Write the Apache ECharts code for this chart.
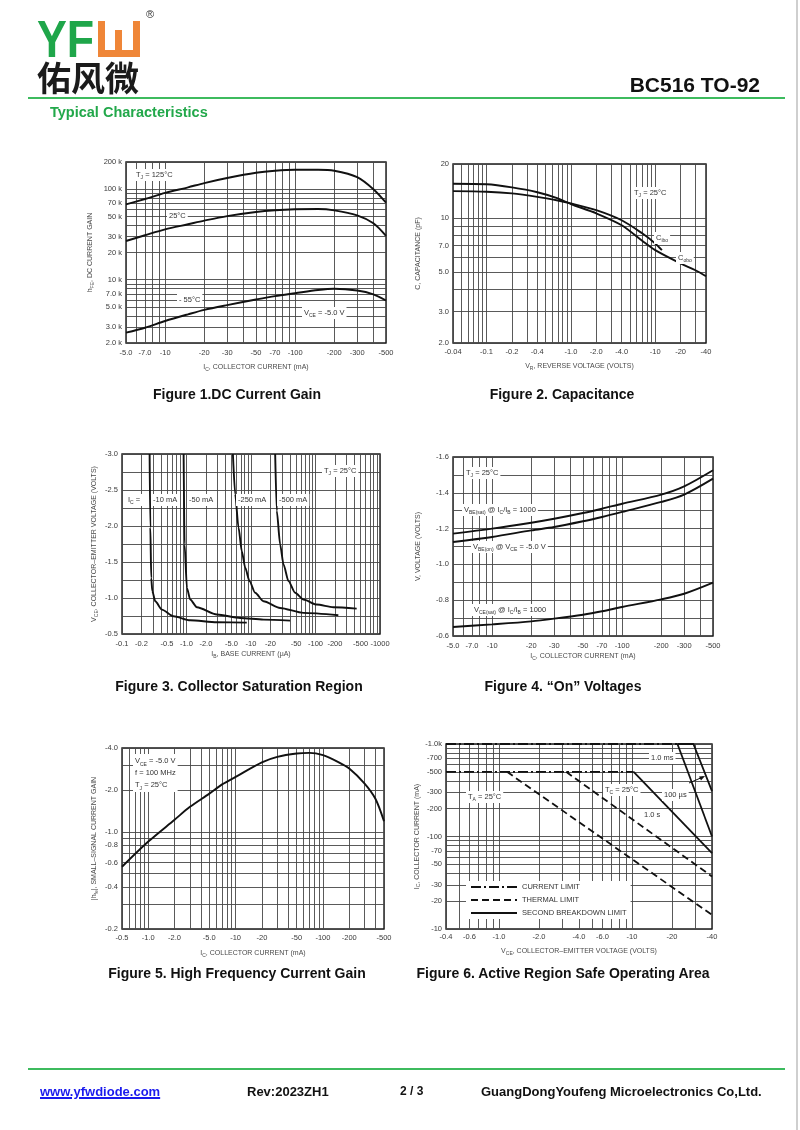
<!DOCTYPE html>
<html>
<head>
<meta charset="utf-8">
<script src="https://cdn.jsdelivr.net/npm/echarts@6/dist/echarts.min.js"></script>
<style>
html,body{margin:0;padding:0;background:#fff;}
#page{position:relative;width:800px;height:1130px;overflow:hidden;font-family:'Liberation Sans',Arial,sans-serif;background:#fff;}
#chart{position:absolute;left:0;top:0;width:800px;height:1130px;}
.abs{position:absolute;white-space:nowrap;}
.cap{position:absolute;white-space:nowrap;font-weight:700;font-size:14px;line-height:16px;color:#111;transform:translateX(-50%);}
.foot{position:absolute;white-space:nowrap;font-weight:700;font-size:13px;line-height:13px;color:#111;top:1085px;}
</style>
</head>
<body>
<div id="page">
  <div id="chart"></div>
  <!-- header -->
  <div class="abs" style="left:37px;top:13px;font-size:52px;line-height:52px;font-weight:700;color:#1fa64a;transform:scaleX(0.86);transform-origin:left top;">YF</div>
  <div class="abs" style="left:98px;top:21px;width:28px;height:29px;border:7px solid #ef8638;border-top:none;"></div>
  <div class="abs" style="left:115px;top:30px;width:7px;height:22px;background:#ef8638;"></div>
  <div class="abs" style="left:146px;top:9px;font-size:11px;line-height:11px;color:#333;">®</div>
  <div class="abs" style="left:37px;top:60px;font-size:34px;line-height:34px;font-weight:700;color:#1b1b1b;font-family:'Noto Sans CJK SC',sans-serif;">佑风微</div>
  <div class="abs" style="right:40px;top:74px;font-size:21px;line-height:21px;font-weight:700;color:#111;">BC516 TO-92</div>
  <div class="abs" style="left:28px;top:97px;width:757px;height:2px;background:#3dbb5e;"></div>
  <div class="abs" style="left:50px;top:105px;font-size:14.5px;line-height:15px;font-weight:700;color:#22a84a;">Typical Characteristics</div>
  <!-- captions -->
  <div class="cap" style="left:237px;top:386px;">Figure 1.DC Current Gain</div>
  <div class="cap" style="left:562px;top:386px;">Figure 2. Capacitance</div>
  <div class="cap" style="left:239px;top:678px;">Figure 3. Collector Saturation Region</div>
  <div class="cap" style="left:563px;top:678px;">Figure 4. “On” Voltages</div>
  <div class="cap" style="left:237px;top:965px;">Figure 5. High Frequency Current Gain</div>
  <div class="cap" style="left:563px;top:965px;">Figure 6. Active Region Safe Operating Area</div>
  <!-- footer -->
  <div class="abs" style="left:28px;top:1068px;width:757px;height:2px;background:#3dbb5e;"></div>
  <div class="foot" style="left:40px;color:#1a1aee;text-decoration:underline;text-decoration-thickness:2px;">www.yfwdiode.com</div>
  <div class="foot" style="left:247px;">Rev:2023ZH1</div>
  <div class="foot" style="left:400px;font-size:12px;">2 / 3</div>
  <div class="foot" style="left:481px;">GuangDongYoufeng Microelectronics Co,Ltd.</div>
  <div class="abs" style="left:796px;top:0;width:2px;height:1130px;background:#cfcfcf;"></div>
</div>
<script>
// ---------------- Figure 1: DC current gain ----------------
const fig1Current = [5, 7, 10, 15, 20, 30, 50, 70, 100, 150, 200, 300, 400, 500];
const fig1Gain125C = [68000, 78000, 91000, 105000, 117000, 133000, 152000, 160000, 164000, 164000, 160000, 136000, 100000, 71000];
const fig1Gain25C = [26800, 31000, 36000, 41000, 45000, 50500, 56000, 58500, 60000, 60500, 58500, 51500, 42000, 30500];
const fig1GainM55C = [2600, 2950, 3500, 4150, 4650, 5250, 6050, 6600, 7100, 7700, 7950, 7600, 6900, 5900];
const fig1XTicks = [5, 7, 10, 20, 30, 50, 70, 100, 200, 300, 500];
const fig1XLabels = ['-5.0', '-7.0', '-10', '-20', '-30', '-50', '-70', '-100', '-200', '-300', '-500'];
const fig1YTicks = [2000, 3000, 5000, 7000, 10000, 20000, 30000, 50000, 70000, 100000, 200000];
const fig1YLabels = ['2.0 k', '3.0 k', '5.0 k', '7.0 k', '10 k', '20 k', '30 k', '50 k', '70 k', '100 k', '200 k'];

// ---------------- Figure 2: capacitance ----------------
const fig2VoltageCibo = [0.04, 0.1, 0.2, 0.4, 0.7, 1, 2, 4, 7, 10, 12];
const fig2Cibo = [14.1, 14.0, 13.7, 13.1, 12.5, 12.05, 11.05, 9.7, 8.2, 7.2, 6.6];
const fig2VoltageCobo = [0.04, 0.1, 0.2, 0.4, 0.7, 1, 2, 4, 7, 10, 20, 30, 40];
const fig2Cobo = [15.5, 15.4, 14.8, 13.9, 12.85, 11.95, 10.6, 9.1, 7.45, 6.6, 5.56, 5.1, 4.72];
const fig2XTicks = [0.04, 0.1, 0.2, 0.4, 1, 2, 4, 10, 20, 40];
const fig2XLabels = ['-0.04', '-0.1', '-0.2', '-0.4', '-1.0', '-2.0', '-4.0', '-10', '-20', '-40'];
const fig2YTicks = [2, 3, 5, 7, 10, 20];
const fig2YLabels = ['2.0', '3.0', '5.0', '7.0', '10', '20'];

// ---------------- Figure 3: collector saturation region ----------------
const fig3BaseCurrent10 = [0.268, 0.275, 0.284, 0.295, 0.328, 0.416, 0.63, 1.14, 2.96, 8.6];
const fig3Vce10 = [3.0, 1.98, 1.28, 1.095, 0.955, 0.839, 0.746, 0.69, 0.663, 0.658];
const fig3BaseCurrent50 = [0.902, 0.934, 1.015, 1.14, 1.45, 2.96, 6.8, 15.6, 40.4];
const fig3Vce50 = [3.0, 1.745, 1.141, 0.979, 0.872, 0.77, 0.723, 0.70, 0.686];
const fig3BaseCurrent250 = [5.24, 5.69, 6.4, 7.2, 8.13, 9.48, 11.6, 15.6, 28.3, 65, 226];
const fig3Vce250 = [3.0, 2.44, 1.98, 1.65, 1.42, 1.234, 1.072, 0.955, 0.862, 0.793, 0.76];
const fig3BaseCurrent500 = [23.7, 25.1, 28.3, 31.9, 38.1, 48.3, 65, 104.5, 189, 435];
const fig3Vce500 = [3.0, 2.21, 1.745, 1.467, 1.234, 1.072, 0.979, 0.909, 0.872, 0.853];
const fig3XTicks = [0.1, 0.2, 0.5, 1, 2, 5, 10, 20, 50, 100, 200, 500, 1000];
const fig3XLabels = ['-0.1', '-0.2', '-0.5', '-1.0', '-2.0', '-5.0', '-10', '-20', '-50', '-100', '-200', '-500', '-1000'];
const fig3YTicks = [0.5, 1.0, 1.5, 2.0, 2.5, 3.0];
const fig3YLabels = ['-0.5', '-1.0', '-1.5', '-2.0', '-2.5', '-3.0'];

// ---------------- Figure 4: "On" voltages ----------------
const fig4Current = [5, 10, 20, 30, 50, 70, 100, 200, 300, 500];
const fig4VbeSat = [1.172, 1.200, 1.233, 1.255, 1.287, 1.311, 1.339, 1.390, 1.436, 1.526];
const fig4VbeOn = [1.125, 1.153, 1.190, 1.209, 1.241, 1.265, 1.293, 1.349, 1.390, 1.479];
const fig4VceSat = [0.650, 0.665, 0.682, 0.697, 0.719, 0.738, 0.762, 0.805, 0.836, 0.898];
const fig4XTicks = [5, 7, 10, 20, 30, 50, 70, 100, 200, 300, 500];
const fig4XLabels = ['-5.0', '-7.0', '-10', '-20', '-30', '-50', '-70', '-100', '-200', '-300', '-500'];
const fig4YTicks = [0.6, 0.8, 1.0, 1.2, 1.4, 1.6];
const fig4YLabels = ['-0.6', '-0.8', '-1.0', '-1.2', '-1.4', '-1.6'];

// ---------------- Figure 5: high frequency current gain ----------------
const fig5Current = [0.5, 1, 2, 3, 5, 7, 10, 20, 30, 50, 70, 100, 150, 200, 300, 400, 500];
const fig5Gain = [0.56, 0.85, 1.22, 1.51, 1.88, 2.19, 2.48, 3.15, 3.45, 3.65, 3.69, 3.55, 3.17, 2.85, 2.22, 1.72, 1.19];
const fig5XTicks = [0.5, 1, 2, 5, 10, 20, 50, 100, 200, 500];
const fig5XLabels = ['-0.5', '-1.0', '-2.0', '-5.0', '-10', '-20', '-50', '-100', '-200', '-500'];
const fig5YTicks = [0.2, 0.4, 0.6, 0.8, 1.0, 2.0, 4.0];
const fig5YLabels = ['-0.2', '-0.4', '-0.6', '-0.8', '-1.0', '-2.0', '-4.0'];

// ---------------- Figure 6: safe operating area ----------------
const fig6VcePeakLimit = [0.4, 22];
const fig6IcPeakLimit = [1000, 1000];
const fig6VceDcLimit = [0.4, 10.3];
const fig6IcDcLimit = [500, 500];
const fig6VceThermalTA = [1.15, 40];
const fig6IcThermalTA = [500, 14.2];
const fig6VceThermalTC = [3.2, 40];
const fig6IcThermalTC = [500, 37];
const fig6Vce1s = [10.3, 40];
const fig6Ic1s = [500, 66];
const fig6Vce1ms = [22, 40];
const fig6Ic1ms = [1000, 100];
const fig6Vce100us = [22, 29, 40];
const fig6Ic100us = [1000, 1000, 310];
const fig6XTicks = [0.4, 0.6, 1, 2, 4, 6, 10, 20, 40];
const fig6XLabels = ['-0.4', '-0.6', '-1.0', '-2.0', '-4.0', '-6.0', '-10', '-20', '-40'];
const fig6YTicks = [10, 20, 30, 50, 70, 100, 200, 300, 500, 700, 1000];
const fig6YLabels = ['-10', '-20', '-30', '-50', '-70', '-100', '-200', '-300', '-500', '-700', '-1.0k'];
const fig6LegendNames = ['CURRENT LIMIT', 'THERMAL LIMIT', 'SECOND BREAKDOWN LIMIT'];

// ---------------- helpers ----------------
const NARROW = "'Liberation Sans Narrow','Liberation Sans',Arial,sans-serif";
const GRID_LINE = {color: '#474747', width: 0.9};
const CURVE = {color: '#111', width: 1.9};
const SUB = {s: {fontSize: 5, verticalAlign: 'bottom'}};

function decadeLines(min, max) {
  const out = [];
  for (let e = Math.floor(Math.log10(min)) - 1; e <= Math.ceil(Math.log10(max)); e++) {
    for (let m = 1; m < 10; m++) {
      const v = +(m * Math.pow(10, e)).toPrecision(6);
      if (v >= min * 0.9999 && v <= max * 1.0001) out.push(v);
    }
  }
  return out;
}
function lookupFormatter(vals, texts) {
  return function (v) {
    for (let i = 0; i < vals.length; i++) {
      if (Math.abs(vals[i] - v) <= Math.abs(vals[i]) * 1e-6) return texts[i];
    }
    return '';
  };
}
function zip(a, b) { return a.map((x, i) => [x, b[i]]); }
function nameStyle() {
  return {fontSize: 7, color: '#4a4a4a', fontFamily: NARROW, lineHeight: 9, rich: SUB};
}
function logAxis(g, min, max, tickVals, tickTexts, name, nameGap, margin) {
  return {
    type: 'log', logBase: 10, gridIndex: g, min: min, max: max,
    axisLine: {show: false},
    axisTick: {show: false, customValues: decadeLines(min, max)},
    splitLine: {show: true, lineStyle: GRID_LINE},
    axisLabel: {customValues: tickVals, formatter: lookupFormatter(tickVals, tickTexts),
      fontSize: 7.5, color: '#3a3a3a', fontFamily: NARROW, margin: margin},
    name: name, nameLocation: 'middle', nameGap: nameGap, nameTextStyle: nameStyle()
  };
}
function linAxis(g, min, max, interval, tickVals, tickTexts, name, nameGap, margin) {
  return {
    type: 'value', gridIndex: g, min: min, max: max, interval: interval,
    axisLine: {show: false}, axisTick: {show: false},
    splitLine: {show: true, lineStyle: GRID_LINE},
    axisLabel: {formatter: lookupFormatter(tickVals, tickTexts),
      fontSize: 7.5, color: '#3a3a3a', fontFamily: NARROW, margin: margin},
    name: name, nameLocation: 'middle', nameGap: nameGap, nameTextStyle: nameStyle()
  };
}
function curve(g, xs, ys, extra) {
  return Object.assign({
    type: 'line', xAxisIndex: g, yAxisIndex: g, data: zip(xs, ys),
    symbol: 'none', smooth: 0.3, lineStyle: CURVE, itemStyle: {color: '#111'}, silent: true, z: 3
  }, extra || {});
}
function soa(name, xs, ys, type) {
  return curve(5, xs, ys, {name: name, smooth: false,
    lineStyle: {color: '#111', width: 1.8, type: type}});
}
function note(x, y, text, extra) {
  return {
    type: 'text', x: x, y: y, z: 100,
    style: Object.assign({
      text: text, fontSize: 7.5, fontFamily: NARROW, fill: '#333',
      backgroundColor: '#fff', padding: [1, 2, 1, 2], lineHeight: 10,
      rich: SUB, verticalAlign: 'middle', align: 'left'
    }, extra || {})
  };
}

const DASH_DOT = [10, 3, 2, 3];
const DASHED = [7, 4];

const gridBox = {show: true, borderColor: '#1a1a1a', borderWidth: 1.4, backgroundColor: 'transparent',
  containLabel: false, outerBoundsMode: 'none'};

const option = {
  animation: false,
  backgroundColor: 'transparent',
  grid: [
    Object.assign({left: 126, top: 162, width: 260, height: 181}, gridBox),
    Object.assign({left: 453, top: 164, width: 253, height: 179}, gridBox),
    Object.assign({left: 122, top: 454, width: 258, height: 180}, gridBox),
    Object.assign({left: 453, top: 457, width: 260, height: 179}, gridBox),
    Object.assign({left: 122, top: 748, width: 262, height: 181}, gridBox),
    Object.assign({left: 446, top: 744, width: 266, height: 185}, gridBox)
  ],
  xAxis: [
    logAxis(0, 5, 500, fig1XTicks, fig1XLabels, 'I{s|C}, COLLECTOR CURRENT (mA)', 20, 6),
    logAxis(1, 0.04, 40, fig2XTicks, fig2XLabels, 'V{s|R}, REVERSE VOLTAGE (VOLTS)', 19, 5),
    logAxis(2, 0.1, 1000, fig3XTicks, fig3XLabels, 'I{s|B}, BASE CURRENT (µA)', 16, 6),
    logAxis(3, 5, 500, fig4XTicks, fig4XLabels, 'I{s|C}, COLLECTOR CURRENT (mA)', 16, 6),
    logAxis(4, 0.5, 500, fig5XTicks, fig5XLabels, 'I{s|C}, COLLECTOR CURRENT (mA)', 20, 5),
    logAxis(5, 0.4, 40, fig6XTicks, fig6XLabels, 'V{s|CE}, COLLECTOR–EMITTER VOLTAGE (VOLTS)', 18, 4)
  ],
  yAxis: [
    logAxis(0, 2000, 200000, fig1YTicks, fig1YLabels, 'h{s|FE}, DC CURRENT GAIN', 31, 4),
    logAxis(1, 2, 20, fig2YTicks, fig2YLabels, 'C, CAPACITANCE (pF)', 30, 4),
    linAxis(2, 0.5, 3.0, 0.25, fig3YTicks, fig3YLabels, 'V{s|CE}, COLLECTOR–EMITTER VOLTAGE (VOLTS)', 23, 4),
    linAxis(3, 0.6, 1.6, 0.1, fig4YTicks, fig4YLabels, 'V, VOLTAGE (VOLTS)', 30, 4),
    logAxis(4, 0.2, 4, fig5YTicks, fig5YLabels, '|h{s|fe}|, SMALL–SIGNAL CURRENT GAIN', 23, 4),
    logAxis(5, 10, 1000, fig6YTicks, fig6YLabels, 'I{s|C}, COLLECTOR CURRENT (mA)', 23, 4)
  ],
  legend: {
    data: fig6LegendNames, orient: 'vertical', left: 466, top: 881,
    itemWidth: 46, itemHeight: 9, itemGap: 5, selectedMode: false,
    itemStyle: {opacity: 0, borderWidth: 0},
    backgroundColor: '#fff', padding: [2, 4, 2, 4],
    textStyle: {fontSize: 7.5, color: '#333', fontFamily: NARROW}
  },
  series: [
    curve(0, fig1Current, fig1Gain125C),
    curve(0, fig1Current, fig1Gain25C),
    curve(0, fig1Current, fig1GainM55C),
    curve(1, fig2VoltageCibo, fig2Cibo),
    curve(1, fig2VoltageCobo, fig2Cobo),
    curve(2, fig3BaseCurrent10, fig3Vce10, {smooth: 0.25, smoothMonotone: 'x'}),
    curve(2, fig3BaseCurrent50, fig3Vce50, {smooth: 0.25, smoothMonotone: 'x'}),
    curve(2, fig3BaseCurrent250, fig3Vce250, {smooth: 0.25, smoothMonotone: 'x'}),
    curve(2, fig3BaseCurrent500, fig3Vce500, {smooth: 0.25, smoothMonotone: 'x'}),
    curve(3, fig4Current, fig4VbeSat),
    curve(3, fig4Current, fig4VbeOn),
    curve(3, fig4Current, fig4VceSat),
    curve(4, fig5Current, fig5Gain),
    soa(fig6LegendNames[0], fig6VcePeakLimit, fig6IcPeakLimit, DASH_DOT),
    soa(fig6LegendNames[0], fig6VceDcLimit, fig6IcDcLimit, DASH_DOT),
    soa(fig6LegendNames[1], fig6VceThermalTA, fig6IcThermalTA, DASHED),
    soa(fig6LegendNames[1], fig6VceThermalTC, fig6IcThermalTC, DASHED),
    soa(fig6LegendNames[2], fig6Vce1s, fig6Ic1s, 'solid'),
    soa(fig6LegendNames[2], fig6Vce1ms, fig6Ic1ms, 'solid'),
    soa(fig6LegendNames[2], fig6Vce100us, fig6Ic100us, 'solid')
  ],
  graphic: [
    // Figure 1
    note(134, 175, 'T{s|J} = 125°C'),
    note(167, 216, '25°C'),
    note(177, 300, '- 55°C'),
    note(302, 313, 'V{s|CE} = -5.0 V'),
    // Figure 2
    note(632, 193, 'T{s|J} = 25°C'),
    note(654, 238, 'C{s|ibo}'),
    note(676, 258, 'C{s|obo}'),
    // Figure 3
    note(126, 500, 'I{s|C} ='),
    note(151, 500, '-10 mA'),
    note(187, 500, '-50 mA'),
    note(236, 500, '-250 mA'),
    note(277, 500, '-500 mA'),
    note(322, 471, 'T{s|J} = 25°C'),
    // Figure 4
    note(464, 473, 'T{s|J} = 25°C'),
    note(462, 510, 'V{s|BE(sat)} @ I{s|C}/I{s|B} = 1000'),
    note(471, 547, 'V{s|BE(on)} @ V{s|CE} = -5.0 V'),
    note(472, 610, 'V{s|CE(sat)} @ I{s|C}/I{s|B} = 1000'),
    // Figure 5
    note(133, 754, 'V{s|CE} = -5.0 V\nf = 100 MHz\nT{s|J} = 25°C', {verticalAlign: 'top', lineHeight: 12}),
    // Figure 6
    note(649, 758, '1.0 ms'),
    note(662, 795, '100 µs'),
    note(642, 815, '1.0 s'),
    note(603, 790, 'T{s|C} = 25°C'),
    note(466, 797, 'T{s|A} = 25°C'),
    {type: 'line', z: 100, shape: {x1: 689, y1: 783, x2: 703, y2: 777}, style: {stroke: '#111', lineWidth: 1}},
    {type: 'polygon', z: 100, shape: {points: [[705, 776], [699, 776.5], [701, 780.5]]}, style: {fill: '#111'}}
  ]
};

const chart = echarts.init(document.getElementById('chart'), null, {renderer: 'canvas'});
chart.setOption(option);
</script>
</body>
</html>
